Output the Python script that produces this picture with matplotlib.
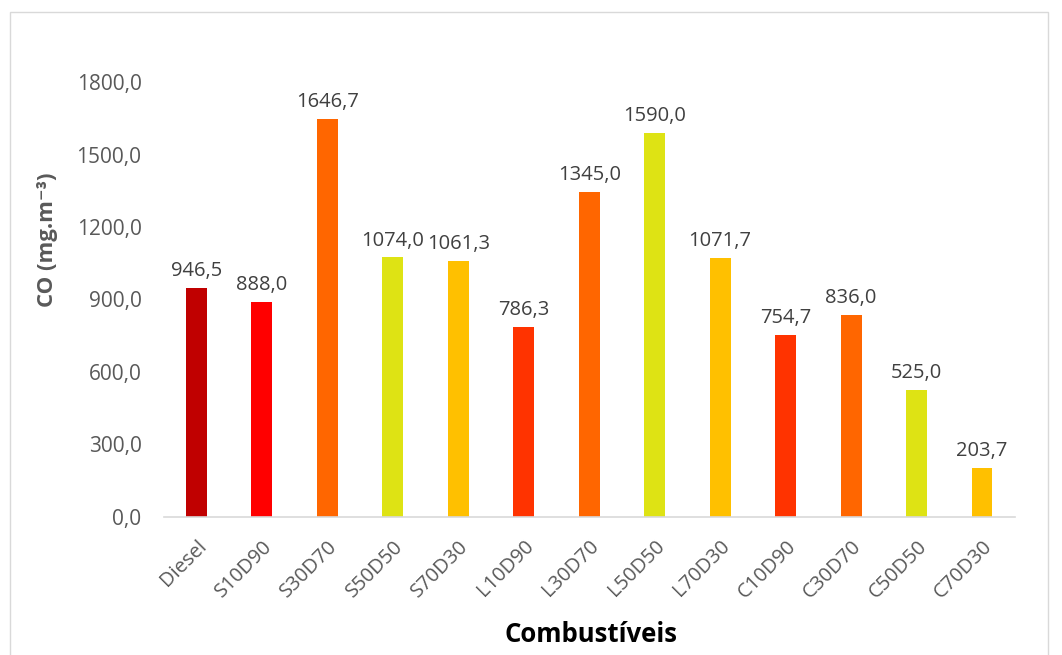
import matplotlib.pyplot as plt
from matplotlib.patches import Rectangle

combustiveis = ["Diesel", "S10D90", "S30D70", "S50D50", "S70D30", "L10D90", "L30D70",
                "L50D50", "L70D30", "C10D90", "C30D70", "C50D50", "C70D30"]
co = [946.5, 888.0, 1646.7, 1074.0, 1061.3, 786.3, 1345.0,
      1590.0, 1071.7, 754.7, 836.0, 525.0, 203.7]
cores = ["#C00000", "#FF0000", "#FF6600", "#DEE314", "#FFC000", "#FF3300", "#FF6600",
         "#DEE314", "#FFC000", "#FF3300", "#FF6600", "#DEE314", "#FFC000"]
yticks = [0, 300, 600, 900, 1200, 1500, 1800]

plt.rcParams["font.family"] = ["Open Sans", "DejaVu Sans"]
cinza = "#595959"

fig = plt.figure(figsize=(10.62, 6.55), dpi=100)
ax = fig.add_axes([0.1542, 0.2107, 0.8013, 0.6641])

x = range(len(combustiveis))
ax.bar(x, co, width=0.32, color=cores)

# rótulos de valor acima das barras
for xi, v in zip(x, co):
    ax.annotate(f"{v:.1f}".replace(".", ","), (xi, v), xytext=(0, 5),
                textcoords="offset points", ha="center", va="bottom",
                fontsize=14.5, color="#404040")

ax.set_xlim(-0.5, len(combustiveis) - 0.5)
ax.set_ylim(0, 1800)
ax.set_yticks(yticks)
ax.set_yticklabels([f"{t:.1f}".replace(".", ",") for t in yticks], fontsize=15, color=cinza)
ax.set_xticks(list(x))
ax.set_xticklabels(combustiveis, rotation=45, ha="right", rotation_mode="anchor",
                   fontsize=14.5, color=cinza)
ax.tick_params(axis="both", length=0)
ax.tick_params(axis="y", pad=16)
ax.tick_params(axis="x", pad=14)

for lado in ["top", "right", "left"]:
    ax.spines[lado].set_visible(False)
ax.spines["bottom"].set_color("#D9D9D9")
ax.spines["bottom"].set_linewidth(1.2)

fig.text(0.045, 0.634, "CO (mg.m⁻³)", rotation=90, ha="center", va="center",
         fontsize=16, fontweight="bold", color=cinza)
fig.text(0.5565, 0.031, "Combustíveis", ha="center", va="center",
         fontsize=18.5, fontweight="bold", color="black")

# moldura da área do gráfico
fig.patches.append(Rectangle((10 / 1062, -0.05), 1038 / 1062, 1.05 - 12 / 655,
                             transform=fig.transFigure, fill=False,
                             edgecolor="#D9D9D9", linewidth=1))

fig.savefig("out.png", dpi=100, facecolor="white")
